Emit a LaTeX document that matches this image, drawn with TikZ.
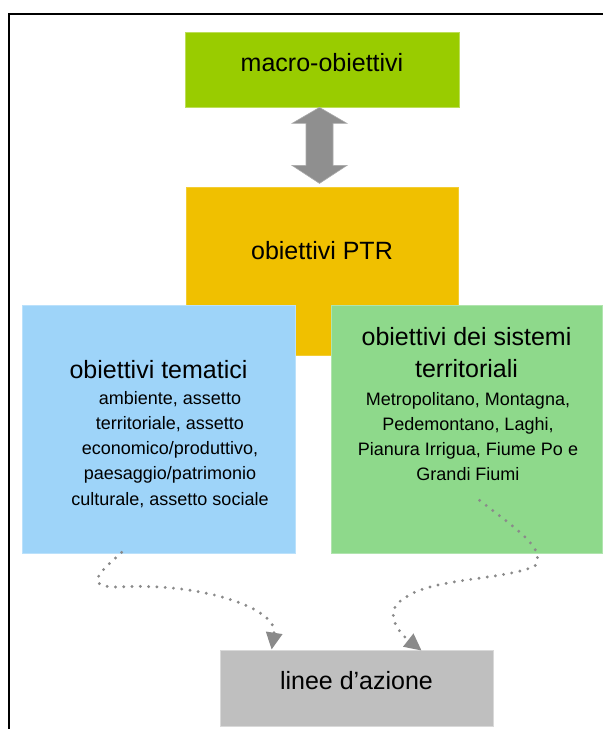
\documentclass[tikz,border=0pt]{standalone}
\usepackage{fontspec}
\setmainfont{Liberation Sans}
\usetikzlibrary{arrows.meta,calc}
\definecolor{macroG}{HTML}{99CC00}
\definecolor{ptrY}{HTML}{F0C000}
\definecolor{temB}{HTML}{9ED4F9}
\definecolor{sisG}{HTML}{8ED98B}
\definecolor{lineeG}{HTML}{BFBFBF}
\definecolor{arrG}{HTML}{8F8F8F}
\definecolor{dotG}{HTML}{8A8A8A}
\definecolor{txt}{HTML}{000000}
\begin{document}
\begin{tikzpicture}[x=1pt,y=-1pt,
  box/.style={rectangle, inner sep=0pt, line width=0.8pt},
  head/.style={font=\fontsize{25}{30}\selectfont, inner sep=0pt, anchor=base, text=txt},
  sub/.style={font=\fontsize{18}{22}\selectfont, inner sep=0pt, anchor=base, text=txt},
  dotconn/.style={draw=dotG, line width=3.2pt, line cap=round, dash pattern=on 0pt off 8.3pt,
    -{Triangle[length=17pt 0, width=16pt 0, fill=dotG]}}]
\useasboundingbox (0,0) rectangle (603,729);
% frame
\draw[line width=1.4pt, black] (9,729) -- (9,14) -- (603,14);
% boxes
\node[box, fill=macroG, draw=macroG!65!white, minimum width=274pt, minimum height=75pt] (macro) at (322,69.5) {};
\node[box, fill=ptrY, draw=ptrY!80!white, minimum width=272pt, minimum height=168pt] (ptr) at (322,271) {};
\node[box, fill=temB, draw=temB!70!white, minimum width=273pt, minimum height=248pt] (tem) at (158.5,429) {};
\node[box, fill=sisG, draw=sisG!70!white, minimum width=271pt, minimum height=248pt] (sis) at (466.5,429) {};
\node[box, fill=lineeG, draw=lineeG!60!white, minimum width=273pt, minimum height=76pt] (linee) at (356.5,688) {};
% texts
\node[head] (macroT) at (322,71) {macro-obiettivi};
\node[head] (ptrT) at (322,259) {obiettivi PTR};
\node[head] (lineeT) at (356.5,689) {linee d’azione};
\node[head] (temT) at (158.5,378) {obiettivi tematici};
\foreach \t [count=\i] in {{ambiente, assetto},{territoriale, assetto},{economico/produttivo,},{paesaggio/patrimonio},{culturale, assetto sociale}}
  \node[sub] (temS\i) at (170,{404.3+25.2*(\i-1)}) {\t};
\node[head] (sisT1) at (466.5,345) {obiettivi dei sistemi};
\node[head] (sisT2) at (466.5,377.3) {territoriali};
\foreach \t [count=\i] in {{Metropolitano, Montagna,},{Pedemontano, Laghi,},{Pianura Irrigua, Fiume Po e},{Grandi Fiumi}}
  \node[sub] (sisS\i) at (468,{405+25*(\i-1)}) {\t};
% double arrow between macro and ptr
\coordinate (aT) at ($(macro.south)+(-2.5,0)$);
\fill[arrG, draw=arrG!75!white, line width=0.6pt] (aT) -- ++(27.5,16) -- ++(-14,0) -- ++(0,42) -- ++(14,0)
  -- ++(-27.5,18) -- ++(-27.5,-18) -- ++(14,0) -- ++(0,-42) -- ++(-14,0) -- cycle;
% dotted connectors
\coordinate (sL) at ($(tem.south west)+(100,-1)$);
\coordinate (eL) at ($(linee.north west)+(52,0)$);
\draw[dotconn] (sL) .. controls (100,572) and (82,587) .. (118,587)
  .. controls (200,582) and (278,608) .. (eL);
\coordinate (sR) at ($(sis.south west)+(149,-53)$);
\coordinate (eR) at ($(linee.north west)+(202,1)$);
\draw[dotconn] (sR) .. controls (525,535) and (545,550) .. (535,566)
  .. controls (505,580) and (430,578) .. (405,598)
  .. controls (382,610) and (398,632) .. (eR);
\end{tikzpicture}
\end{document}
